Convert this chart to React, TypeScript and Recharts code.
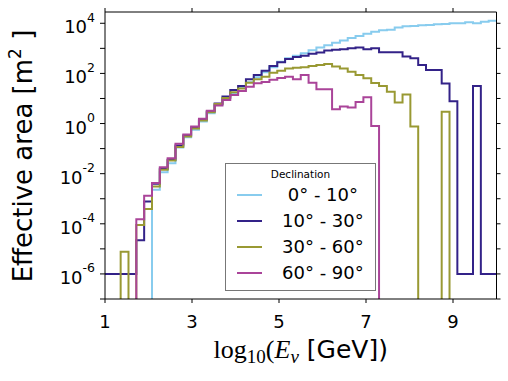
import React from "react";
import { Legend, Line, LineChart, XAxis, YAxis } from "recharts";

// bin edges in log10(E/GeV), 50 bins from 1 to 10
const binEdges = [
  1.0, 1.18, 1.36, 1.54, 1.72, 1.9, 2.08, 2.26, 2.44, 2.62, 2.8, 2.98, 3.16, 3.34, 3.52, 3.7, 3.88,
  4.06, 4.24, 4.42, 4.6, 4.78, 4.96, 5.14, 5.32, 5.5, 5.68, 5.86, 6.04, 6.22, 6.4, 6.58, 6.76, 6.94,
  7.12, 7.3, 7.48, 7.66, 7.84, 8.02, 8.2, 8.38, 8.56, 8.74, 8.92, 9.1, 9.28, 9.46, 9.64, 9.82, 10.0,
];

// log10 of effective area [m^2] per bin, null = empty bin
const dec0to10 = [
  null, null, null, null, null, null, -2.64, -1.94, -1.58, -0.96, -0.55, -0.25, 0.08, 0.41, 0.74, 1.0,
  1.22, 1.42, 1.65, 1.85, 2.05, 2.25, 2.47, 2.6, 2.7, 2.8, 2.92, 3.03, 3.12, 3.22, 3.31, 3.41, 3.49,
  3.58, 3.66, 3.72, 3.74, 3.83, 3.88, 3.89, 3.92, 3.93, 3.96, 3.97, 4.0, 4.0, 4.04, 4.0, 4.06, 4.1,
];
const dec10to30 = [
  -6, -6, -6, -6, -4.66, -3.11, -2.4, -1.8, -1.44, -0.88, -0.48, -0.16, 0.16, 0.48, 0.8, 1.08, 1.34,
  1.5, 1.77, 1.94, 2.11, 2.3, 2.45, 2.57, 2.65, 2.7, 2.78, 2.83, 2.91, 2.94, 2.96, 3.0, 3.03, 2.96,
  3.0, 2.84, 2.84, 2.84, 2.67, 2.6, 2.34, 2.14, 2.14, 1.6, 0.89, -6, -6, 1.5, -6, -6,
];
const dec30to60 = [
  null, null, -5.11, null, -4.05, -3.41, -2.51, -1.84, -1.47, -0.94, -0.52, -0.2, 0.12, 0.45, 0.78,
  1.02, 1.25, 1.4, 1.63, 1.77, 1.87, 2.03, 2.11, 2.2, 2.23, 2.25, 2.3, 2.34, 2.38, 2.28, 2.2, 2.07,
  1.94, 1.81, 1.62, 1.5, 1.27, 0.84, 1.16, -0.12, null, null, null, 0.47, null, null, null, null, null, null,
];
const dec60to90 = [
  null, null, null, null, -3.82, -2.88, -2.37, -1.74, -1.38, -0.81, -0.44, -0.12, 0.19, 0.51, 0.72,
  0.94, 1.14, 1.3, 1.47, 1.61, 1.66, 1.75, 1.82, 1.87, 1.77, 1.94, 1.63, 1.37, 1.37, 0.57, 0.68, 0.64,
  0.86, 1.05, -0.1, null, null, null, null, null, null, null, null, null, null, null, null, null, null, null,
];

const seriesNames = ["0° - 10°", "10° - 30°", "30° - 60°", "60° - 90°"];
const legendLabels = [" 0° - 10°", "10° - 30°", "30° - 60°", "60° - 90°"];
const colors = ["#88CCEE", "#332288", "#999933", "#AA4499"];

const xTicks = [1, 3, 5, 7, 9];
const yTicks = [-7, -6, -5, -4, -3, -2, -1, 0, 1, 2, 3, 4];

const FLOOR = -9; // empty bins fall below the axis
const fill = (v: number | null) => (v === null ? FLOOR : v);

const allSeries = [dec0to10, dec10to30, dec30to60, dec60to90];
const rows = binEdges.map((e, i) => {
  const k = Math.min(i, 49);
  const row: Record<string, number> = { e };
  allSeries.forEach((s, j) => {
    row["s" + j] = fill(s[k]);
  });
  return row;
});

const FONT = "DejaVu Sans, sans-serif";

const YTick = (props: any) => {
  const { x, y, payload } = props;
  const v = payload.value;
  if (v % 2 !== 0) return null;
  return (
    <text x={x} y={y + 10} textAnchor="end" fontFamily={FONT} fontSize={18} fill="#000">
      <tspan>10</tspan>
      <tspan fontSize={12.5} dy={-11.5}>{`${v}`}</tspan>
    </text>
  );
};

const XTick = (props: any) => {
  const { x, y, payload } = props;
  return (
    <text x={x} y={y + 23} textAnchor="middle" fontFamily={FONT} fontSize={18} fill="#000">
      {payload.value}
    </text>
  );
};

const NoTick = () => null;

const YTitle = () => (
  <text transform="translate(32,156) rotate(-90)" textAnchor="middle" fontFamily={FONT} fontSize={26} fill="#000">
    Effective area [m
    <tspan fontSize={17} dy={-11}>2</tspan>
    <tspan dy={11}>{" ]"}</tspan>
  </text>
);

const SERIF = "Liberation Serif, serif";
const XTitle = () => (
  <text x={300.75} y={358} textAnchor="middle" fill="#000">
    <tspan fontFamily={SERIF} fontSize={26}>log</tspan>
    <tspan fontFamily={SERIF} fontSize={19} dy={5}>10</tspan>
    <tspan fontFamily={SERIF} fontSize={26} dy={-5}>(</tspan>
    <tspan fontFamily={SERIF} fontSize={26} fontStyle="italic">E</tspan>
    <tspan fontFamily={SERIF} fontSize={19} fontStyle="italic" dy={5}>ν</tspan>
    <tspan fontFamily={FONT} fontSize={25} dy={-5}>{" [GeV])"}</tspan>
  </text>
);

const DeclLegend = () => (
  <div
    style={{
      boxSizing: "border-box",
      width: 151,
      height: 128,
      border: "1.5px solid #777",
      background: "#fff",
      position: "relative",
      fontFamily: FONT,
      color: "#000",
    }}
  >
    <div style={{ position: "absolute", top: 3, left: 0, right: 0, textAlign: "center", fontSize: 10.5, lineHeight: "14px" }}>
      Declination
    </div>
    {legendLabels.map((label, i) => (
      <div
        key={label}
        style={{ position: "absolute", left: 0, top: 21 + 26 * i, height: 20, display: "flex", alignItems: "center" }}
      >
        <div style={{ marginLeft: 11, width: 25, height: 2, background: colors[i] }} />
        <span style={{ marginLeft: 20, fontSize: 18, lineHeight: "20px", whiteSpace: "pre" }}>{label}</span>
      </div>
    ))}
  </div>
);

export default function App() {
  return (
    <div style={{ position: "absolute", left: 0, top: 0 }}>
      <LineChart width={508} height={381} data={rows} margin={{ top: 7, right: 6.5, bottom: 0, left: 0 }}>
        <XAxis
          xAxisId="b"
          dataKey="e"
          type="number"
          domain={[1, 10]}
          ticks={xTicks}
          interval={0}
          allowDataOverflow
          height={82}
          tickSize={4}
          stroke="#000"
          tick={<XTick />}
          label={<XTitle />}
        />
        <XAxis
          xAxisId="t"
          orientation="top"
          dataKey="e"
          type="number"
          domain={[1, 10]}
          ticks={xTicks}
          interval={0}
          allowDataOverflow
          height={5}
          tickSize={4}
          stroke="#000"
          tick={NoTick}
        />
        <YAxis
          yAxisId="l"
          type="number"
          domain={[-7, 4.45]}
          ticks={yTicks}
          interval={0}
          allowDataOverflow
          width={105}
          tickSize={5}
          tickMargin={5}
          stroke="#000"
          tick={<YTick />}
          label={<YTitle />}
        />
        <YAxis
          yAxisId="r"
          orientation="right"
          type="number"
          domain={[-7, 4.45]}
          ticks={yTicks}
          interval={0}
          allowDataOverflow
          width={5}
          tickSize={4}
          stroke="#000"
          tick={NoTick}
        />
        {seriesNames.map((name, j) => (
          <Line
            key={name}
            name={name}
            xAxisId="b"
            yAxisId="l"
            type="stepAfter"
            dataKey={"s" + j}
            stroke={colors[j]}
            strokeWidth={2}
            dot={false}
            activeDot={false}
            isAnimationActive={false}
          />
        ))}
        <Legend
          layout="horizontal"
          verticalAlign="middle"
          align="center"
          content={<DeclLegend />}
          wrapperStyle={{ left: 225, top: 163, width: 151, height: 128 }}
        />
      </LineChart>
    </div>
  );
}
